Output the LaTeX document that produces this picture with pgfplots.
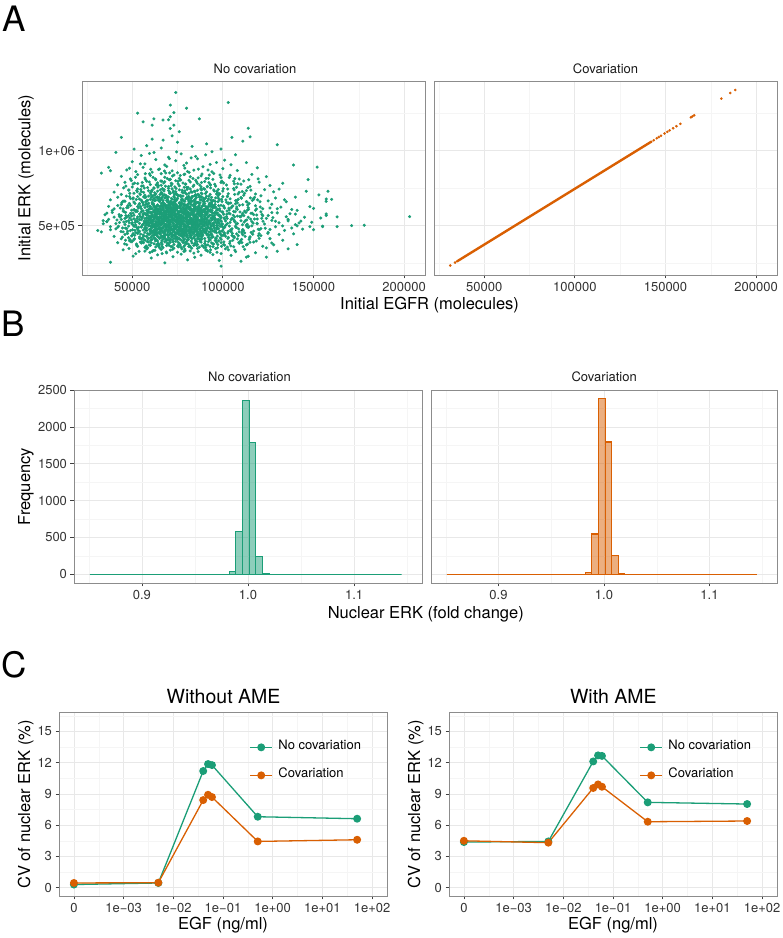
\documentclass[border=0pt]{standalone}
\usepackage{pgfplots}
\pgfplotsset{compat=1.18}
\usepackage{fontspec}
\setmainfont{TeX Gyre Heros}
\definecolor{dkgreen}{HTML}{1B9E77}
\definecolor{dkorange}{HTML}{D95F02}
\newcommand\fs[1]{\fontsize{#1}{#1}\selectfont}
\pgfplotsset{
  gg/.style={
    scale only axis, anchor=south west,
    axis line style={draw=black!45, line width=0.9pt},
    grid=both,
    major grid style={draw=black!9, line width=0.8pt},
    minor grid style={draw=black!4, line width=0.5pt},
    tick align=outside,
    major tick length=3.5pt,
    minor tick length=0pt,
    tick style={draw=black!75, line width=0.8pt},
    tick pos=left,
    ticklabel style={font={\fs{13}}, text=black!80},
    clip=true,
  },
  noy/.style={ytick style={draw=none}, yticklabels={}},
  scatA/.style={gg, width=343pt, height=194pt,
    xmin=22.3, xmax=211.5, ymin=170, ymax=1466,
    xtick={50,100,150,200}, xticklabels={50000,100000,150000,200000},
    minor xtick={25,75,125,175},
    ytick={500,1000}, yticklabels={5e+05,1e+06},
    minor ytick={250,750,1250}},
  histB/.style={gg, height=193pt,
    xmin=0.836, xmax=1.164, ymin=-120, ymax=2505,
    xtick={0.9,1.0,1.1}, xticklabels={0.9,1.0,1.1},
    minor xtick={0.85,0.95,1.05,1.15},
    ytick={0,500,1000,1500,2000,2500}, yticklabels={0,500,1000,1500,2000,2500},
    minor ytick={250,750,1250,1750,2250}},
  lineC/.style={gg, width=328pt, height=183.3pt,
    xmin=-4.3, xmax=2.3, ymin=-0.8, ymax=16.8,
    xtick={-4,-3,-2,-1,0,1,2},
    xticklabels={0,1e−03,1e−02,1e−01,1e+00,1e+01,1e+02},
    minor xtick={-3.5,-2.5,-1.5,-0.5,0.5,1.5},
    ytick={0,3,6,9,12,15}, yticklabels={0,3,6,9,12,15},
    minor ytick={1.5,4.5,7.5,10.5,13.5,16.5},
    legend style={at={(0.581,0.842)}, anchor=north west, draw=none, fill=none,
      inner sep=0pt, outer sep=0pt, font={\fs{13}}, row sep=16.6pt, column sep=4.6pt,
      nodes={inner sep=1pt, text height=0.72em, text depth=0.22em}},
    legend cell align=left,
    legend image code/.code={\draw[mark repeat=2,mark phase=2,line width=1.3pt,##1] plot coordinates {(0pt,0pt) (11pt,0pt) (22pt,0pt)};}},
  gline/.style={dkgreen, line width=1.3pt, mark=*, mark size=3.3pt, mark options={solid, draw=none, fill=dkgreen}},
  oline/.style={dkorange, line width=1.3pt, mark=*, mark size=3.3pt, mark options={solid, draw=none, fill=dkorange}},
}
\begin{document}
\begin{tikzpicture}[x=1pt,y=1pt]
\path[use as bounding box] (0,0) rectangle (783,938);
% ---------------- A ----------------
\node[anchor=base west, inner sep=0pt, font={\fs{35}}] at (2.5,906.5) {A};
\node[anchor=base, inner sep=0pt, font={\fs{13}}, text=black!90] at (255,864.7) {No covariation};
\node[anchor=base, inner sep=0pt, font={\fs{13}}, text=black!90] at (605.5,864.7) {Covariation};
\node[anchor=base, inner sep=0pt, font={\fs{16.5}}] at (429.6,628) {Initial EGFR (molecules)};
\node[anchor=base, rotate=90, inner sep=0pt, font={\fs{16.5}}] at (30.3,760) {Initial ERK (molecules)};
\begin{axis}[scatA, at={(82pt,663pt)}]
\addplot[only marks, mark=*, mark size=1.35pt, dkgreen, mark options={draw=none, fill=dkgreen}] coordinates {
(74,1389) (103,1322) (71,1305) (80,1284) (53,1251) (73,1255) (62,1213) (87,1213) (114,1151) (44,1089) (130,1040) (41,989) (33,851) (139,905) (152,891) (178,502) (171,500) (163,558) (157,678) (158,729) (146,729) (147,807) (155,496) (150,473) (141,373) (38,255) (99,229) (31,467) (33,458) (203,560) (68,251) (110,262) (114,295) (56,1193) (67,1205) (70,1207) (71,1227) (61,1171) (73,1171) (71,1149) (76,1127) (61,1078) (67,1071) (72,1100) (51,1011) (37,889) (38,867) (34,533) (36,527) (115,1093) (111,1064) (105,1089) (153,705) (141,498) (148,493) (136,345) (130,329) (124,289) (113,289) (98,267) (160,675) (157,662) (150,615) (148,627) (157,578) (157,568) (154,551) (149,522) (163,493) (155,493)
(45,338) (52,312) (58,344) (61,327) (64,305) (66,341) (69,318) (71,336) (73,349) (75,322) (77,309) (79,343) (82,331) (84,316) (86,347) (88,302) (91,335) (93,321) (96,346) (99,313) (103,338) (107,326) (112,341) (118,318) (57,329)
(42,386) (47,372) (50,395) (53,361) (55,383) (57,354) (59,391) (60,368) (62,379) (63,357) (64,397) (65,371) (66,385) (67,352) (68,392) (69,366) (70,378) (71,389) (72,359) (73,374) (74,396) (75,363) (76,381) (77,355) (78,388) (79,369) (80,394) (81,376) (82,358) (83,384) (84,367) (85,398) (86,373) (87,356) (88,389) (89,364) (90,380) (92,393) (93,361) (95,377) (97,352) (99,386) (101,369) (104,395) (106,358) (109,382) (113,371) (117,390) (122,362) (127,384)
(40,428) (44,412) (46,441) (48,419) (50,433) (51,405) (53,447) (54,424) (55,411) (56,438) (57,402) (58,429) (59,416) (60,445) (61,408) (61,431) (62,421) (63,440) (63,404) (64,427) (65,414) (65,446) (66,433) (67,409) (67,424) (68,442) (68,417) (69,401) (70,436) (70,420) (71,411) (71,448) (72,426) (72,405) (73,437) (73,415) (74,429) (74,444) (75,408) (75,421) (76,439) (76,413) (77,431) (77,402) (78,447) (78,419) (79,434) (79,410) (80,425) (80,443) (81,406) (81,418) (82,437) (82,428) (83,412) (84,445) (84,423) (85,403) (86,432) (86,416) (87,441) (88,409) (88,426) (89,436) (90,414) (91,447) (92,422) (93,404) (94,438) (96,417) (97,430) (99,408) (101,443) (103,421) (105,434) (108,411) (111,439) (115,425) (120,446) (126,413)
(38,472) (42,489) (45,458) (47,481) (49,466) (51,495) (52,453) (53,477) (54,462) (55,490) (56,470) (57,455) (58,484) (58,467) (59,498) (60,459) (60,476) (61,487) (61,452) (62,469) (62,493) (63,481) (63,461) (64,474) (64,496) (65,456) (65,485) (66,468) (66,479) (67,491) (67,454) (68,472) (68,463) (69,488) (69,476) (70,457) (70,495) (71,466) (71,483) (72,451) (72,474) (73,490) (73,461) (74,478) (74,499) (75,467) (75,455) (76,486) (76,472) (77,460) (77,493) (78,479) (78,452) (79,469) (79,487) (80,458) (80,476) (81,494) (81,464) (82,482) (82,453) (83,471) (83,489) (84,460) (84,477) (85,497) (85,466) (86,484) (86,455) (87,473) (88,491) (88,462) (89,480) (90,456) (90,498) (91,469) (92,486) (93,459) (94,475) (95,492) (96,463) (97,481) (98,454) (100,470) (101,488) (103,461) (105,479) (107,496) (109,458) (111,474) (114,487) (117,463) (121,480) (125,455) (129,492) (134,468) (138,484) (144,476) (48,497) (57,488)
(36,526) (41,513) (44,541) (46,507) (48,533) (50,519) (51,546) (52,504) (53,528) (54,515) (55,539) (56,509) (57,522) (57,547) (58,511) (59,535) (59,502) (60,524) (60,544) (61,513) (61,531) (62,506) (62,540) (63,518) (63,527) (64,549) (64,503) (65,536) (65,515) (66,525) (66,508) (67,543) (67,520) (68,531) (68,512) (69,547) (69,501) (70,529) (70,518) (71,538) (71,507) (72,523) (72,545) (73,511) (73,534) (74,502) (74,526) (75,541) (75,515) (76,530) (76,506) (77,548) (77,521) (78,513) (78,537) (79,504) (79,528) (80,544) (80,516) (81,533) (81,509) (82,525) (82,547) (83,502) (83,519) (84,538) (84,511) (85,529) (85,545) (86,506) (86,522) (87,536) (88,514) (88,543) (89,503) (89,527) (90,518) (91,540) (91,509) (92,531) (93,516) (94,546) (95,505) (96,524) (97,537) (98,512) (99,530) (101,545) (102,508) (104,521) (106,539) (108,514) (110,532) (113,503) (116,526) (119,544) (123,511) (127,535) (131,519) (136,541) (140,507) (143,530) (46,548) (58,536) (105,549)
(35,572) (39,588) (43,563) (45,597) (47,556) (49,581) (51,569) (52,593) (53,558) (54,577) (55,591) (56,564) (57,583) (58,552) (58,574) (59,596) (60,561) (60,585) (61,571) (62,553) (62,589) (63,567) (63,579) (64,598) (64,558) (65,575) (65,590) (66,562) (66,584) (67,551) (67,570) (68,593) (68,578) (69,560) (69,587) (70,573) (70,555) (71,595) (71,566) (72,580) (72,552) (73,589) (73,569) (74,576) (74,557) (75,599) (75,583) (76,564) (76,591) (77,571) (77,554) (78,586) (78,562) (79,578) (79,596) (80,559) (80,573) (81,590) (81,565) (82,582) (82,553) (83,575) (83,597) (84,561) (84,586) (85,569) (86,593) (86,556) (87,580) (88,565) (88,598) (89,572) (90,557) (90,588) (91,576) (92,563) (93,594) (94,570) (95,555) (97,584) (98,567) (100,591) (102,560) (104,578) (106,595) (108,564) (111,582) (114,556) (117,573) (121,592) (125,567) (130,585) (135,559) (140,577) (56,599) (48,566) (99,553) (112,597) (66,577) (76,549)
(37,628) (40,612) (44,641) (47,619) (49,634) (51,606) (53,627) (54,648) (55,613) (56,637) (57,621) (58,644) (59,608) (60,629) (60,617) (61,646) (62,603) (62,632) (63,622) (64,639) (64,611) (65,626) (66,649) (66,607) (67,635) (67,618) (68,643) (69,624) (69,602) (70,638) (70,615) (71,630) (72,647) (72,609) (73,621) (73,636) (74,604) (74,642) (75,616) (75,628) (76,649) (77,611) (77,633) (78,623) (78,605) (79,640) (80,618) (80,631) (81,647) (82,608) (82,625) (83,638) (84,614) (84,629) (85,645) (86,603) (87,621) (87,637) (88,612) (89,634) (90,648) (91,619) (92,627) (93,606) (94,641) (96,623) (97,610) (99,636) (101,617) (103,645) (105,626) (108,608) (111,639) (114,620) (118,633) (122,612) (127,643) (132,624) (138,607) (59,650) (71,614) (85,611) (95,632) (107,646)
(38,672) (42,689) (46,663) (49,681) (51,658) (53,694) (55,670) (56,652) (57,686) (58,666) (59,697) (60,675) (61,655) (62,683) (63,669) (64,692) (65,661) (66,678) (67,699) (67,656) (68,684) (69,667) (70,691) (71,659) (72,677) (73,695) (74,664) (75,682) (76,653) (77,671) (78,698) (79,662) (80,687) (81,673) (82,657) (83,694) (84,668) (85,680) (86,654) (87,690) (88,674) (89,663) (91,696) (92,678) (94,659) (96,685) (98,671) (100,693) (102,656) (104,679) (107,667) (110,688) (113,660) (117,682) (121,699) (125,665) (129,684) (134,672) (65,688) (73,657) (81,696) (54,677) (95,668) (108,652) (140,690)
(40,724) (44,708) (48,737) (51,716) (53,745) (55,727) (57,704) (59,733) (60,718) (62,749) (63,712) (64,730) (66,721) (67,741) (68,706) (70,735) (71,715) (72,746) (74,726) (75,703) (76,739) (78,719) (79,732) (80,710) (82,744) (83,723) (85,707) (86,736) (88,717) (90,743) (91,725) (93,709) (95,738) (97,720) (100,731) (103,713) (106,747) (109,722) (113,734) (118,711) (123,740) (128,726) (61,737) (87,701) (70,749)
(42,772) (46,789) (50,758) (53,781) (56,765) (58,796) (60,774) (62,752) (64,786) (66,769) (68,793) (70,761) (72,778) (74,799) (76,766) (78,784) (80,755) (82,791) (84,770) (86,782) (88,759) (90,795) (93,775) (96,763) (99,788) (102,771) (106,797) (110,777) (115,762) (120,790) (126,768) (133,783)
(44,829) (49,812) (53,841) (57,818) (60,835) (63,806) (66,847) (68,823) (71,809) (73,838) (76,816) (79,844) (82,826) (85,803) (88,832) (92,815) (95,848) (99,821) (104,836) (109,811) (116,842) (124,827)
(47,872) (52,861) (56,889) (61,857) (65,878) (69,895) (72,866) (75,853) (79,884) (84,870) (89,893) (94,859) (100,881) (108,868) (119,886)
(50,927) (57,912) (63,941) (68,905) (74,933) (80,918) (86,946) (93,909) (101,937) (113,921)
(55,968) (62,988) (70,957) (77,979) (85,962) (94,994) (107,973)
(58,1034) (66,1018) (75,1057) (83,1029) (91,1046) (99,1012)
(112,452) (116,498) (119,512) (121,433) (124,548) (127,587) (130,612) (133,498) (136,531) (118,602) (122,566) (126,474) (129,529) (131,441) (137,579) (142,518) (145,556) (139,445) (115,389) (120,415) (133,402) (128,372) (124,351) (117,675) (112,716) (131,744) (135,659) (126,618) (141,602)
(37,542) (39,601) (41,478) (43,521) (44,567) (45,612) (38,493) (40,557) (42,634) (36,583) (34,512)
(61,497) (62,544) (63,586) (64,452) (65,519) (66,601) (67,483) (68,557) (69,634) (70,502) (71,578) (72,441) (73,613) (74,537) (75,468) (76,592) (77,509) (78,646) (79,453) (80,566) (81,521) (82,604) (83,487) (84,553) (85,619) (86,498) (87,571) (88,447) (89,543) (90,607) (91,476) (92,559) (93,517) (94,588) (60,538) (61,613) (62,471) (63,559) (64,634) (65,489) (66,547) (67,602) (68,464) (69,529) (70,586) (71,443) (72,561) (73,497) (74,622) (75,548) (76,478) (77,597) (78,533) (79,611) (80,491) (81,578) (82,459) (83,541) (84,602) (85,518) (86,461) (87,593) (88,532) (89,477) (90,561) (91,523) (92,602) (93,483) (94,547) (95,517) (66,512) (68,593) (70,469) (72,536) (74,573) (76,511) (78,557) (80,603) (82,518) (84,488) (86,544) (88,579) (70,621) (73,658) (77,644) (81,627) (67,668) (75,681) (83,663) (79,503) (71,527) (65,556) (63,512) (85,561) (87,503) (89,596) (76,629) (73,549) (69,573) (64,581) (62,627) (60,496) (91,574) (93,628) (68,503) (74,483) (78,476) (82,571) (86,582) (80,543) (77,533) (72,587) (70,544) (66,635) (84,641) (75,507) (79,551) (71,604) (81,467) (83,594) (88,619) (67,522) (73,472) (76,555) (78,592) (80,527) (85,483) (90,539) (92,511) (94,601) (96,544) (98,571) (97,499) (99,528) (95,583) (63,466) (61,565) (59,547) (58,603) (57,521) (56,575) (55,492) (54,541)
(48.5,398) (52.5,371) (56.5,407) (60.5,385) (64.5,362) (68.5,411) (72.5,392) (76.5,370) (80.5,405) (84.5,381) (88.5,366) (92.5,409) (96.5,388) (100.5,374) (105.5,402) (110.5,386) (58.5,352) (66.5,376) (74.5,417) (82.5,397) (90.5,353) (98.5,418) (62.5,414) (78.5,359) (86.5,412) (70.5,399) (94.5,378) (54.5,389) (102.5,356) (114.5,408)
(47.5,463) (50.5,447) (53.5,488) (56.5,431) (59.5,474) (62.5,457) (65.5,503) (68.5,439) (71.5,492) (74.5,452) (77.5,512) (80.5,436) (83.5,499) (86.5,448) (89.5,507) (92.5,435) (95.5,468) (98.5,495) (101.5,429) (104.5,461) (107.5,487) (110.5,451) (113.5,509) (116.5,442) (119.5,476) (60.5,518) (66.5,428) (72.5,466) (78.5,497) (84.5,473) (90.5,481) (96.5,452) (102.5,514) (108.5,432) (64.5,479) (70.5,512) (76.5,443) (82.5,461) (88.5,426) (94.5,506) (100.5,484) (57.5,501) (51.5,468) (63.5,437) (69.5,458) (75.5,489) (81.5,515) (87.5,479) (93.5,446) (99.5,462)
(46.5,566) (49.5,538) (52.5,601) (55.5,552) (58.5,584) (61.5,527) (64.5,609) (67.5,561) (70.5,533) (73.5,596) (76.5,571) (79.5,545) (82.5,612) (85.5,537) (88.5,588) (91.5,553) (94.5,617) (97.5,542) (100.5,576) (103.5,604) (106.5,558) (109.5,591) (112.5,534) (115.5,582) (118.5,611) (121.5,549) (59.5,563) (65.5,592) (71.5,618) (77.5,528) (83.5,573) (89.5,606) (95.5,567) (101.5,531) (107.5,613) (62.5,575) (68.5,547) (74.5,529) (80.5,587) (86.5,614) (92.5,522) (98.5,598) (104.5,539) (53.5,618) (56.5,531) (50.5,584) (110.5,569) (113.5,603)
(45.5,664) (48.5,695) (51.5,648) (54.5,707) (57.5,659) (60.5,689) (63.5,631) (66.5,714) (69.5,676) (72.5,641) (75.5,702) (78.5,667) (81.5,624) (84.5,699) (87.5,652) (90.5,683) (93.5,638) (96.5,711) (99.5,661) (102.5,694) (105.5,632) (108.5,676) (111.5,703) (114.5,647) (117.5,689) (120.5,659) (58.5,626) (64.5,668) (70.5,717) (76.5,635) (82.5,681) (88.5,712) (94.5,667) (100.5,628) (106.5,708) (62.5,704) (73.5,686) (86.5,629) (97.5,683)
(46.5,764) (49.5,801) (52.5,735) (55.5,788) (58.5,753) (61.5,822) (64.5,767) (67.5,731) (70.5,806) (73.5,759) (76.5,834) (79.5,778) (82.5,727) (85.5,793) (88.5,845) (91.5,762) (94.5,809) (97.5,741) (100.5,784) (103.5,821) (107.5,756) (111.5,798) (115.5,737) (119.5,812) (59.5,846) (65.5,739) (71.5,783) (77.5,724) (83.5,815) (89.5,748) (95.5,776) (68.5,852) (80.5,862) (92.5,838)
(54.5,913) (64.5,874) (70.5,948) (78.5,902) (86.5,877) (96.5,921) (59.5,982) (82.5,952) (48.5,883) (104.5,906) (74.5,992) (90.5,973)
(50.5,296) (60.5,284) (66.5,313) (72.5,292) (78.5,327) (84.5,289) (94.5,306) (62.5,334) (90.5,337) (104.5,301) (80.5,271)
(58.5,447) (59.5,512) (60.5,583) (61.5,642) (62.5,493) (63.5,548) (64.5,423) (65.5,611) (66.5,467) (67.5,532) (68.5,596) (69.5,658) (70.5,479) (71.5,556) (72.5,624) (73.5,437) (74.5,508) (75.5,577) (76.5,646) (77.5,462) (78.5,531) (79.5,603) (80.5,684) (81.5,449) (82.5,516) (83.5,581) (84.5,652) (85.5,471) (86.5,538) (87.5,607) (88.5,454) (89.5,527) (90.5,592) (91.5,665) (92.5,482) (93.5,549) (94.5,426) (95.5,621) (96.5,501) (97.5,569)
(58.5,591) (59.5,631) (60.5,463) (61.5,506) (62.5,559) (63.5,612) (64.5,531) (65.5,448) (66.5,577) (67.5,639) (68.5,488) (69.5,526) (70.5,563) (71.5,601) (72.5,514) (73.5,573) (74.5,636) (75.5,452) (76.5,528) (77.5,589) (78.5,441) (79.5,498) (80.5,556) (81.5,617) (82.5,476) (83.5,532) (84.5,598) (85.5,441) (86.5,505) (87.5,563) (88.5,627) (89.5,471) (90.5,522) (91.5,584) (92.5,641) (93.5,493) (94.5,559) (95.5,458) (96.5,603) (97.5,522)
(60.5,553) (62.5,598) (64.5,509) (66.5,541) (68.5,619) (70.5,591) (72.5,543) (74.5,562) (76.5,497) (78.5,612) (80.5,518) (82.5,549) (84.5,567) (86.5,596) (88.5,556) (90.5,573) (92.5,532) (63.5,478) (67.5,501) (71.5,479) (75.5,526) (79.5,571) (83.5,505) (87.5,528) (91.5,497) (65.5,671) (69.5,603) (73.5,652) (77.5,678) (81.5,657) (85.5,689) (89.5,648) (61.5,459) (66.5,689) (71.5,662) (76.5,701) (82.5,669) (87.5,672) (93.5,604) (95.5,537)
(46.3,402) (49.7,431) (52.3,377) (55.7,419) (58.3,393) (61.7,437) (64.3,381) (67.7,426) (70.3,368) (73.7,414) (76.3,437) (79.7,386) (82.3,421) (85.7,392) (88.3,434) (91.7,371) (94.3,423) (97.7,398) (100.3,436) (103.7,381) (106.3,419) (109.7,397) (112.3,428) (57.7,364) (63.3,405) (69.7,433) (75.3,389) (81.7,364) (87.3,407) (93.7,439) (99.3,362) (105.7,427) (51.3,412) (60.3,421) (66.3,398) (72.3,433) (78.3,402) (84.3,428) (90.3,396) (96.3,412)
(44.7,484) (47.3,449) (50.7,502) (53.3,466) (56.7,517) (59.3,441) (62.7,486) (65.3,462) (68.7,509) (71.3,447) (74.7,491) (77.3,468) (80.7,512) (83.3,452) (86.7,493) (89.3,467) (92.7,516) (95.3,484) (98.7,443) (101.3,499) (104.7,472) (107.3,511) (110.7,464) (113.3,493) (116.7,516) (48.3,519) (54.7,443) (60.7,496) (66.7,519) (72.7,477) (78.7,448) (84.7,506) (90.7,459) (96.7,517) (102.7,451) (108.7,478) (57.3,476) (63.3,502) (69.3,471) (75.3,443) (81.3,486) (87.3,513) (93.3,474) (99.3,506) (105.3,448)
(43.3,557) (46.7,528) (49.3,579) (52.7,546) (55.3,597) (58.7,522) (61.3,563) (64.7,539) (67.3,588) (70.7,526) (73.3,567) (76.7,543) (79.3,592) (82.7,531) (85.3,574) (88.7,528) (91.3,593) (94.7,561) (97.3,526) (100.7,552) (103.3,583) (106.7,527) (109.3,561) (112.7,589) (115.3,543) (118.7,571) (45.7,592) (51.7,521) (57.7,571) (63.7,597) (69.7,551) (75.7,527) (81.7,569) (87.7,598) (93.7,536) (99.7,589) (105.7,569) (111.7,523) (54.3,563) (66.3,532) (78.3,581) (90.3,545) (102.3,598) (60.3,589) (72.3,599) (84.3,522)
(44.3,653) (47.7,621) (50.3,679) (53.7,641) (56.3,692) (59.7,615) (62.3,666) (65.7,628) (68.3,688) (71.7,646) (74.3,612) (77.7,672) (80.3,638) (83.3,693) (86.3,617) (89.7,661) (92.3,696) (95.7,642) (98.3,613) (101.7,672) (104.3,651) (107.7,624) (110.3,683) (113.7,637) (116.3,668) (49.7,603) (55.3,664) (61.3,697) (67.3,609) (73.3,674) (79.3,614) (85.3,657) (91.3,626) (97.3,698) (103.3,617) (58.3,643) (64.3,684) (70.3,653) (76.3,618) (82.3,657) (88.3,692) (94.3,623)
(45.3,752) (48.7,716) (51.3,784) (54.7,741) (57.3,808) (60.7,727) (63.3,773) (66.7,748) (69.3,815) (72.7,731) (75.3,779) (78.7,756) (81.3,803) (84.7,729) (87.3,771) (90.7,814) (93.3,752) (96.7,728) (99.3,796) (102.7,744) (106.3,779) (110.7,728) (114.3,806) (62.3,705) (68.3,763) (74.3,713) (80.3,742) (86.3,709) (92.3,787) (98.3,713) (56.3,722) (66.3,797) (76.3,804) (88.3,739)
(60.7,467) (61.3,528) (62.7,609) (63.7,541) (64.7,478) (65.7,587) (66.7,623) (67.7,452) (68.7,537) (69.7,502) (70.7,648) (71.7,583) (72.7,498) (73.7,621) (74.7,553) (75.7,469) (76.7,595) (77.7,511) (78.7,637) (79.7,477) (80.7,563) (81.7,608) (82.7,491) (83.7,539) (84.7,626) (85.7,508) (86.7,571) (87.7,466) (88.7,598) (89.7,542) (90.7,613) (91.7,487) (92.7,568) (93.7,652) (94.7,518) (95.7,587) (96.7,476) (97.7,633) (98.7,553) (99.7,492)
(60.3,612) (62.3,451) (64.3,552) (66.3,484) (68.3,571) (70.3,437) (72.3,641) (74.3,529) (76.3,463) (78.3,549) (80.3,627) (82.3,539) (84.3,457) (86.3,654) (88.3,513) (90.3,629) (92.3,458) (94.3,542) (96.3,579) (98.3,462)
(61.3,671) (65.3,708) (69.3,688) (73.3,709) (77.3,697) (81.3,716) (85.3,702) (89.3,683) (93.3,671) (97.3,659)
(48.2,347) (53.8,328) (57.4,356) (61.6,333) (65.2,351) (68.8,324) (72.4,342) (75.6,358) (79.2,331) (82.8,349) (86.4,326) (89.6,353) (93.2,338) (96.8,322) (101.4,345) (106.6,336) (111.2,359) (59.8,321) (77.4,344) (91.6,329)
(45.8,378) (49.4,392) (52.6,365) (56.2,386) (59.4,371) (62.8,398) (66.4,362) (69.2,383) (72.8,394) (75.4,369) (78.6,387) (81.2,361) (84.8,379) (87.4,396) (90.6,368) (93.8,384) (97.2,373) (100.6,391) (104.4,364) (108.8,388) (113.6,376) (118.4,397) (63.6,372) (71.4,361) (79.8,381) (85.6,367) (94.6,359) (55.4,393)
(44.6,423) (48.8,407) (51.4,436) (54.2,414) (57.8,428) (60.2,402) (62.4,439) (65.8,418) (67.2,431) (69.6,405) (71.8,425) (73.4,437) (76.2,411) (77.8,429) (80.4,403) (82.6,434) (84.2,416) (86.8,427) (88.4,409) (91.2,438) (93.6,421) (96.2,404) (99.4,432) (102.8,415) (106.2,426) (110.4,408) (114.8,419) (119.6,433) (58.6,411) (74.4,422) (85.4,438) (95.8,401)
(43.8,461) (47.4,447) (50.2,472) (53.6,455) (56.8,478) (59.2,443) (61.8,466) (63.4,451) (65.6,474) (67.8,458) (69.4,441) (71.2,469) (73.6,453) (75.8,477) (77.4,446) (79.6,462) (81.8,471) (83.4,449) (85.2,476) (87.6,457) (89.4,468) (91.8,442) (94.4,464) (97.6,479) (100.8,452) (104.2,470) (107.6,445) (111.4,467) (115.6,454) (120.2,473) (124.8,448) (66.2,463) (78.2,459) (88.8,444)
(42.4,496) (46.2,483) (49.8,512) (52.4,488) (55.6,505) (58.2,519) (60.8,491) (62.6,508) (64.8,484) (66.6,515) (68.2,499) (70.4,487) (72.6,517) (74.4,494) (76.8,481) (78.4,509) (80.6,498) (82.4,514) (84.6,486) (86.2,503) (88.6,492) (90.8,518) (93.4,501) (96.4,485) (99.8,511) (103.6,497) (107.2,489) (110.8,506) (114.4,493) (118.8,516) (123.4,482) (61.4,504) (73.2,490) (84.2,513)
(41.6,538) (45.4,524) (48.6,551) (51.8,532) (54.8,557) (57.6,527) (59.6,545) (61.2,536) (63.8,521) (65.4,554) (67.6,541) (69.8,529) (71.6,558) (73.8,534) (75.2,547) (77.6,522) (79.4,549) (81.4,539) (83.8,526) (85.8,556) (87.2,531) (89.8,543) (92.4,523) (95.4,552) (98.6,535) (102.4,548) (106.4,527) (109.8,559) (113.2,537) (117.4,544) (122.2,529) (127.6,553) (70.8,521) (82.2,546)
(42.8,573) (46.4,588) (49.6,564) (52.8,596) (56.4,579) (58.8,567) (61.4,591) (63.6,575) (65.4,584) (67.4,561) (69.6,597) (71.8,572) (73.2,586) (75.6,565) (77.2,593) (79.8,578) (81.6,569) (83.2,589) (85.4,562) (87.8,581) (90.2,595) (92.8,570) (95.6,587) (98.8,563) (102.2,577) (106.8,592) (111.6,566) (116.2,583) (121.6,574) (64.2,598) (76.4,568) (88.2,585)
(43.4,618) (47.6,634) (51.2,606) (54.6,627) (57.2,639) (59.8,612) (62.6,623) (64.4,603) (66.8,631) (68.6,616) (70.6,637) (72.8,608) (74.8,625) (76.6,614) (78.8,633) (80.8,621) (82.8,604) (84.8,629) (86.6,617) (89.2,638) (91.6,611) (94.2,626) (97.4,605) (100.4,632) (104.6,619) (109.2,636) (114.2,609) (120.6,624) (68.2,629) (79.4,602)
(44.8,662) (48.4,648) (52.2,674) (55.8,655) (58.6,669) (61.8,643) (64.6,677) (67.2,652) (69.8,665) (72.2,646) (74.6,671) (77.2,658) (79.6,679) (82.2,644) (84.4,667) (86.8,653) (89.6,673) (92.6,649) (95.8,661) (99.2,676) (103.2,651) (107.8,668) (113.4,657) (119.2,672) (71.2,641) (81.2,664)
(46.8,697) (50.6,684) (54.2,712) (57.6,691) (60.4,706) (63.2,688) (66.2,715) (68.8,699) (71.6,682) (74.2,709) (76.8,694) (79.2,718) (81.8,686) (84.6,703) (87.2,692) (90.4,714) (93.8,689) (97.8,707) (102.6,696) (108.4,711) (115.2,685) (62.4,719)
(48.2,738) (52.8,726) (56.6,751) (60.6,733) (64.2,757) (67.6,741) (70.8,724) (74.2,748) (77.6,736) (80.8,755) (84.2,729) (87.8,744) (91.4,759) (95.2,731) (100.2,746) (106.2,739) (113.8,753) (72.6,722)
(50.4,778) (55.2,764) (59.4,791) (63.4,772) (67.4,785) (71.4,767) (75.2,796) (79.4,776) (83.6,762) (88.2,788) (93.2,771) (99.6,793) (108.2,779) (65.8,798)
(51.8,823) (57.2,847) (62.8,812) (67.8,864) (72.2,831) (76.8,805) (81.4,856) (86.4,819) (91.8,872) (98.4,838) (106.6,814) (60.2,876) (78.6,841) (70.6,852)
};
\end{axis}
\begin{axis}[scatA, noy, at={(434pt,663pt)}]
\addplot[dkorange, line width=2.4pt, line cap=round] coordinates {(35,261.1) (142.3,1061.6)};
\addplot[only marks, mark=*, mark size=1.1pt, dkorange, mark options={draw=none, fill=dkorange}] coordinates {
(31.3,233.5) (33.9,252.9) (143.5,1070.5) (145.2,1083.2) (146.3,1091.4) (147.5,1100.4) (149.5,1115.3) (151,1126.5) (152.3,1136.2) (154.2,1150.3) (156,1163.8) (158.2,1180.2) (164,1223.4) (164.8,1229.4) (165.8,1236.9) (180.8,1348.8) (185.7,1385.3) (188.5,1406.2)};
\end{axis}
% ---------------- B ----------------
\node[anchor=base west, inner sep=0pt, font={\fs{35}}] at (1.5,601.3) {B};
\node[anchor=base, inner sep=0pt, font={\fs{13}}, text=black!90] at (249.5,556.3) {No covariation};
\node[anchor=base, inner sep=0pt, font={\fs{13}}, text=black!90] at (604.2,556.3) {Covariation};
\node[anchor=base, inner sep=0pt, font={\fs{16.5}}] at (425.8,319.5) {Nuclear ERK (fold change)};
\node[anchor=base, rotate=90, inner sep=0pt, font={\fs{16.5}}] at (30.1,451.3) {Frequency};
\begin{axis}[histB, width=348pt, at={(74pt,355pt)}]
\addplot[ybar interval, draw=dkgreen, fill=dkgreen, fill opacity=0.5, draw opacity=1, line width=1.1pt] coordinates {
(0.85105,0) (0.98230,40) (0.98855,583) (0.99480,2358) (1.00105,1789) (1.00730,244) (1.01355,10) (1.01980,0) (1.14480,0)};
\end{axis}
\begin{axis}[histB, noy, width=346pt, at={(431pt,355pt)}]
\addplot[ybar interval, draw=dkorange, fill=dkorange, fill opacity=0.5, draw opacity=1, line width=1.1pt] coordinates {
(0.85105,0) (0.98230,25) (0.98855,547) (0.99480,2390) (1.00105,1798) (1.00730,253) (1.01355,5) (1.01980,0) (1.14480,0)};
\end{axis}
% ---------------- C ----------------
\node[anchor=base west, inner sep=0pt, font={\fs{35}}] at (1,260.7) {C};
\node[anchor=base, inner sep=0pt, font={\fs{19.5}}] at (223.5,234.7) {Without AME};
\node[anchor=base, inner sep=0pt, font={\fs{19.5}}] at (613.3,234.7) {With AME};
\node[anchor=base, inner sep=0pt, font={\fs{16.5}}] at (223,8.5) {EGF (ng/ml)};
\node[anchor=base, inner sep=0pt, font={\fs{16.5}}] at (613,8.5) {EGF (ng/ml)};
\node[anchor=base, rotate=90, inner sep=0pt, font={\fs{16.5}}] at (30.1,133.6) {CV of nuclear ERK (\%)};
\node[anchor=base, rotate=90, inner sep=0pt, font={\fs{16.5}}] at (420.1,133.6) {CV of nuclear ERK (\%)};
\begin{axis}[lineC, at={(59pt,42pt)}]
\addplot[gline] coordinates {(-4,0.3) (-2.301,0.45) (-1.398,11.2) (-1.301,11.87) (-1.222,11.77) (-0.301,6.81) (1.699,6.62)};
\addlegendentry{No covariation}
\addplot[oline] coordinates {(-4,0.45) (-2.301,0.48) (-1.398,8.41) (-1.301,8.92) (-1.222,8.70) (-0.301,4.44) (1.699,4.6)};
\addlegendentry{Covariation}
\end{axis}
\begin{axis}[lineC, at={(449pt,42pt)}]
\addplot[gline] coordinates {(-4,4.38) (-2.301,4.44) (-1.398,12.12) (-1.301,12.7) (-1.222,12.65) (-0.301,8.19) (1.699,8.03)};
\addlegendentry{No covariation}
\addplot[oline] coordinates {(-4,4.5) (-2.301,4.32) (-1.398,9.57) (-1.301,9.91) (-1.222,9.69) (-0.301,6.33) (1.699,6.4)};
\addlegendentry{Covariation}
\end{axis}
\end{tikzpicture}
\end{document}
